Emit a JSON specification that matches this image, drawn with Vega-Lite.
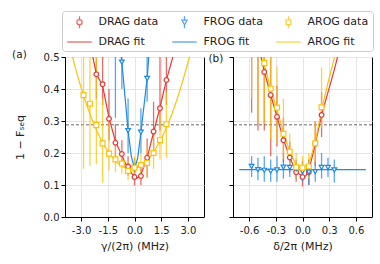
{
  "$schema": "https://vega.github.io/schema/vega-lite/v6.json",
  "padding": {"left": 11, "top": 10, "right": 5, "bottom": 5},
  "datasets": {
    "thr": [{"y": 0.288}],
    "pts_a": [
      {"label": "DRAG data", "x": -2.14, "y": 0.446, "lo": 0.37, "hi": 0.56},
      {"label": "DRAG data", "x": -1.79, "y": 0.415, "lo": 0.35, "hi": 0.55},
      {"label": "DRAG data", "x": -1.43, "y": 0.307, "lo": 0.24, "hi": 0.40},
      {"label": "DRAG data", "x": -1.07, "y": 0.232, "lo": 0.18, "hi": 0.29},
      {"label": "DRAG data", "x": -0.71, "y": 0.197, "lo": 0.16, "hi": 0.24},
      {"label": "DRAG data", "x": -0.36, "y": 0.158, "lo": 0.13, "hi": 0.19},
      {"label": "DRAG data", "x": 0.0, "y": 0.125, "lo": 0.098, "hi": 0.155},
      {"label": "DRAG data", "x": 0.36, "y": 0.128, "lo": 0.10, "hi": 0.16},
      {"label": "DRAG data", "x": 0.71, "y": 0.185, "lo": 0.125, "hi": 0.245},
      {"label": "DRAG data", "x": 1.07, "y": 0.267, "lo": 0.2, "hi": 0.36},
      {"label": "DRAG data", "x": 1.43, "y": 0.34, "lo": 0.27, "hi": 0.55},
      {"label": "DRAG data", "x": 1.79, "y": 0.428, "lo": 0.35, "hi": 0.6},
      {"label": "FROG data", "x": -1.07, "y": 0.62, "lo": 0.31, "hi": 0.9},
      {"label": "FROG data", "x": -0.71, "y": 0.484, "lo": 0.40, "hi": 0.58},
      {"label": "FROG data", "x": -0.36, "y": 0.27, "lo": 0.2, "hi": 0.37},
      {"label": "FROG data", "x": 0.0, "y": 0.15, "lo": 0.12, "hi": 0.185},
      {"label": "FROG data", "x": 0.36, "y": 0.265, "lo": 0.2, "hi": 0.34},
      {"label": "FROG data", "x": 0.71, "y": 0.433, "lo": 0.36, "hi": 0.52},
      {"label": "AROG data", "x": -2.86, "y": 0.381, "lo": 0.15, "hi": 0.6},
      {"label": "AROG data", "x": -2.5, "y": 0.354, "lo": 0.16, "hi": 0.6},
      {"label": "AROG data", "x": -2.14, "y": 0.287, "lo": 0.165, "hi": 0.6},
      {"label": "AROG data", "x": -1.79, "y": 0.23, "lo": 0.107, "hi": 0.37},
      {"label": "AROG data", "x": -1.43, "y": 0.198, "lo": 0.145, "hi": 0.3},
      {"label": "AROG data", "x": -1.07, "y": 0.18, "lo": 0.14, "hi": 0.23},
      {"label": "AROG data", "x": -0.71, "y": 0.167, "lo": 0.135, "hi": 0.2},
      {"label": "AROG data", "x": -0.36, "y": 0.144, "lo": 0.115, "hi": 0.175},
      {"label": "AROG data", "x": 0.0, "y": 0.154, "lo": 0.12, "hi": 0.19},
      {"label": "AROG data", "x": 0.36, "y": 0.1625, "lo": 0.13, "hi": 0.2},
      {"label": "AROG data", "x": 0.71, "y": 0.169, "lo": 0.12, "hi": 0.22},
      {"label": "AROG data", "x": 1.07, "y": 0.2, "lo": 0.15, "hi": 0.26},
      {"label": "AROG data", "x": 1.43, "y": 0.24, "lo": 0.18, "hi": 0.32},
      {"label": "AROG data", "x": 1.79, "y": 0.29, "lo": 0.185, "hi": 0.39}
    ],
    "fit_a": [
      {"label": "DRAG fit", "x": -2.45, "y": 0.53},
      {"label": "DRAG fit", "x": -2.14, "y": 0.447},
      {"label": "DRAG fit", "x": -1.79, "y": 0.41},
      {"label": "DRAG fit", "x": -1.43, "y": 0.31},
      {"label": "DRAG fit", "x": -1.07, "y": 0.236},
      {"label": "DRAG fit", "x": -0.71, "y": 0.192},
      {"label": "DRAG fit", "x": -0.36, "y": 0.15},
      {"label": "DRAG fit", "x": 0.0, "y": 0.126},
      {"label": "DRAG fit", "x": 0.18, "y": 0.122},
      {"label": "DRAG fit", "x": 0.36, "y": 0.132},
      {"label": "DRAG fit", "x": 0.71, "y": 0.185},
      {"label": "DRAG fit", "x": 1.07, "y": 0.264},
      {"label": "DRAG fit", "x": 1.43, "y": 0.343},
      {"label": "DRAG fit", "x": 1.79, "y": 0.428},
      {"label": "DRAG fit", "x": 2.3, "y": 0.53},
      {"label": "FROG fit", "x": -0.86, "y": 0.56},
      {"label": "FROG fit", "x": -0.71, "y": 0.484},
      {"label": "FROG fit", "x": -0.36, "y": 0.27},
      {"label": "FROG fit", "x": -0.18, "y": 0.19},
      {"label": "FROG fit", "x": 0.0, "y": 0.15},
      {"label": "FROG fit", "x": 0.18, "y": 0.185},
      {"label": "FROG fit", "x": 0.36, "y": 0.265},
      {"label": "FROG fit", "x": 0.71, "y": 0.433},
      {"label": "FROG fit", "x": 0.84, "y": 0.53},
      {"label": "AROG fit", "x": -3.6, "y": 0.526},
      {"label": "AROG fit", "x": -3.3, "y": 0.462},
      {"label": "AROG fit", "x": -3.0, "y": 0.405},
      {"label": "AROG fit", "x": -2.7, "y": 0.353},
      {"label": "AROG fit", "x": -2.4, "y": 0.307},
      {"label": "AROG fit", "x": -2.1, "y": 0.267},
      {"label": "AROG fit", "x": -1.8, "y": 0.233},
      {"label": "AROG fit", "x": -1.5, "y": 0.205},
      {"label": "AROG fit", "x": -1.2, "y": 0.183},
      {"label": "AROG fit", "x": -0.9, "y": 0.166},
      {"label": "AROG fit", "x": -0.6, "y": 0.155},
      {"label": "AROG fit", "x": -0.3, "y": 0.15},
      {"label": "AROG fit", "x": 0.0, "y": 0.151},
      {"label": "AROG fit", "x": 0.3, "y": 0.158},
      {"label": "AROG fit", "x": 0.6, "y": 0.171},
      {"label": "AROG fit", "x": 0.9, "y": 0.189},
      {"label": "AROG fit", "x": 1.2, "y": 0.214},
      {"label": "AROG fit", "x": 1.5, "y": 0.244},
      {"label": "AROG fit", "x": 1.8, "y": 0.28},
      {"label": "AROG fit", "x": 2.1, "y": 0.322},
      {"label": "AROG fit", "x": 2.4, "y": 0.37},
      {"label": "AROG fit", "x": 2.7, "y": 0.423},
      {"label": "AROG fit", "x": 3.0, "y": 0.483},
      {"label": "AROG fit", "x": 3.3, "y": 0.548}
    ],
    "pts_b": [
      {"label": "DRAG data", "x": -0.571, "y": 0.58, "lo": 0.326, "hi": 0.83},
      {"label": "DRAG data", "x": -0.5, "y": 0.53, "lo": 0.27, "hi": 0.79},
      {"label": "DRAG data", "x": -0.429, "y": 0.453, "lo": 0.27, "hi": 0.64},
      {"label": "DRAG data", "x": -0.357, "y": 0.381, "lo": 0.19, "hi": 0.57},
      {"label": "DRAG data", "x": -0.286, "y": 0.313, "lo": 0.22, "hi": 0.41},
      {"label": "DRAG data", "x": -0.214, "y": 0.24, "lo": 0.17, "hi": 0.31},
      {"label": "DRAG data", "x": -0.143, "y": 0.186, "lo": 0.14, "hi": 0.235},
      {"label": "DRAG data", "x": -0.071, "y": 0.14, "lo": 0.11, "hi": 0.17},
      {"label": "DRAG data", "x": 0.0, "y": 0.125, "lo": 0.095, "hi": 0.155},
      {"label": "DRAG data", "x": 0.071, "y": 0.14, "lo": 0.1, "hi": 0.18},
      {"label": "DRAG data", "x": 0.143, "y": 0.229, "lo": 0.16, "hi": 0.3},
      {"label": "DRAG data", "x": 0.214, "y": 0.319, "lo": 0.25, "hi": 0.39},
      {"label": "FROG data", "x": -0.571, "y": 0.158, "lo": 0.125, "hi": 0.19},
      {"label": "FROG data", "x": -0.5, "y": 0.148, "lo": 0.115, "hi": 0.185},
      {"label": "FROG data", "x": -0.429, "y": 0.146, "lo": 0.11, "hi": 0.19},
      {"label": "FROG data", "x": -0.357, "y": 0.143, "lo": 0.11, "hi": 0.18},
      {"label": "FROG data", "x": -0.286, "y": 0.147, "lo": 0.11, "hi": 0.19},
      {"label": "FROG data", "x": -0.214, "y": 0.156, "lo": 0.12, "hi": 0.2},
      {"label": "FROG data", "x": -0.143, "y": 0.155, "lo": 0.125, "hi": 0.185},
      {"label": "FROG data", "x": -0.071, "y": 0.15, "lo": 0.12, "hi": 0.18},
      {"label": "FROG data", "x": 0.0, "y": 0.142, "lo": 0.11, "hi": 0.175},
      {"label": "FROG data", "x": 0.071, "y": 0.14, "lo": 0.1, "hi": 0.18},
      {"label": "FROG data", "x": 0.143, "y": 0.142, "lo": 0.11, "hi": 0.175},
      {"label": "FROG data", "x": 0.214, "y": 0.155, "lo": 0.12, "hi": 0.2},
      {"label": "FROG data", "x": 0.286, "y": 0.155, "lo": 0.125, "hi": 0.185},
      {"label": "FROG data", "x": 0.357, "y": 0.147, "lo": 0.108, "hi": 0.18},
      {"label": "AROG data", "x": -0.571, "y": 0.62, "lo": 0.373, "hi": 0.87},
      {"label": "AROG data", "x": -0.5, "y": 0.56, "lo": 0.295, "hi": 0.83},
      {"label": "AROG data", "x": -0.429, "y": 0.481, "lo": 0.29, "hi": 0.67},
      {"label": "AROG data", "x": -0.357, "y": 0.401, "lo": 0.244, "hi": 0.56},
      {"label": "AROG data", "x": -0.286, "y": 0.342, "lo": 0.23, "hi": 0.47},
      {"label": "AROG data", "x": -0.214, "y": 0.26, "lo": 0.18, "hi": 0.37},
      {"label": "AROG data", "x": -0.143, "y": 0.204, "lo": 0.16, "hi": 0.26},
      {"label": "AROG data", "x": -0.071, "y": 0.156, "lo": 0.12, "hi": 0.2},
      {"label": "AROG data", "x": 0.0, "y": 0.154, "lo": 0.12, "hi": 0.19},
      {"label": "AROG data", "x": 0.071, "y": 0.158, "lo": 0.12, "hi": 0.2},
      {"label": "AROG data", "x": 0.143, "y": 0.23, "lo": 0.17, "hi": 0.3},
      {"label": "AROG data", "x": 0.214, "y": 0.343, "lo": 0.28, "hi": 0.467}
    ],
    "fit_b": [
      {"label": "DRAG fit", "x": -0.49, "y": 0.53},
      {"label": "DRAG fit", "x": -0.429, "y": 0.455},
      {"label": "DRAG fit", "x": -0.357, "y": 0.382},
      {"label": "DRAG fit", "x": -0.286, "y": 0.312},
      {"label": "DRAG fit", "x": -0.214, "y": 0.243},
      {"label": "DRAG fit", "x": -0.143, "y": 0.186},
      {"label": "DRAG fit", "x": -0.071, "y": 0.142},
      {"label": "DRAG fit", "x": 0.0, "y": 0.126},
      {"label": "DRAG fit", "x": 0.036, "y": 0.128},
      {"label": "DRAG fit", "x": 0.071, "y": 0.145},
      {"label": "DRAG fit", "x": 0.143, "y": 0.228},
      {"label": "DRAG fit", "x": 0.214, "y": 0.318},
      {"label": "DRAG fit", "x": 0.286, "y": 0.39},
      {"label": "DRAG fit", "x": 0.357, "y": 0.46},
      {"label": "DRAG fit", "x": 0.42, "y": 0.53},
      {"label": "FROG fit", "x": -0.71, "y": 0.148},
      {"label": "FROG fit", "x": 0.71, "y": 0.148},
      {"label": "AROG fit", "x": -0.47, "y": 0.53},
      {"label": "AROG fit", "x": -0.429, "y": 0.478},
      {"label": "AROG fit", "x": -0.357, "y": 0.4},
      {"label": "AROG fit", "x": -0.286, "y": 0.335},
      {"label": "AROG fit", "x": -0.214, "y": 0.265},
      {"label": "AROG fit", "x": -0.143, "y": 0.205},
      {"label": "AROG fit", "x": -0.071, "y": 0.163},
      {"label": "AROG fit", "x": 0.0, "y": 0.15},
      {"label": "AROG fit", "x": 0.071, "y": 0.165},
      {"label": "AROG fit", "x": 0.143, "y": 0.235},
      {"label": "AROG fit", "x": 0.214, "y": 0.335},
      {"label": "AROG fit", "x": 0.286, "y": 0.42},
      {"label": "AROG fit", "x": 0.36, "y": 0.5},
      {"label": "AROG fit", "x": 0.39, "y": 0.535}
    ]
  },
  "spacing": 3,
  "hconcat": [
    {
      "width": 139,
      "height": 160,
      "title": {"text": "(a)", "anchor": "start", "frame": "bounds", "offset": -8, "dx": -2},
      "encoding": {
        "x": {"field": "x", "type": "quantitative", "scale": {"domain": [-3.9, 3.9], "nice": false, "zero": false},
              "axis": {"values": [-3, -1.5, 0, 1.5, 3], "labelExpr": "(datum.value < 0 ? '-' : '') + format(abs(datum.value), '.1f')", "title": "γ/(2π) (MHz)"}},
        "y": {"field": "y", "type": "quantitative", "scale": {"domain": [0, 0.5], "nice": false},
              "axis": {"values": [0, 0.1, 0.2, 0.3, 0.4, 0.5], "format": ".1f", "title": "1 − Fₛₑq", "titlePadding": 18}}
      },
      "layer": [
        {"data": {"name": "thr"}, "mark": {"type": "rule", "strokeDash": [3, 2], "color": "#555555", "strokeWidth": 0.9},
         "encoding": {"x": null, "y": {"field": "y", "type": "quantitative"}}},
        {"data": {"name": "pts_a"}, "mark": {"type": "rule", "clip": true, "strokeWidth": 1.3, "opacity": 0.75},
         "encoding": {"y": {"field": "lo", "type": "quantitative"}, "y2": {"field": "hi"},
           "color": {"field": "label", "type": "nominal", "scale": {"domain": ["DRAG data", "FROG data", "AROG data", "DRAG fit", "FROG fit", "AROG fit"], "range": ["#e53935", "#1e88e5", "#ffc107", "#e53935", "#1e88e5", "#ffc107"]}}}},
        {"data": {"name": "fit_a"}, "mark": {"type": "line", "clip": true, "strokeWidth": 1.2},
         "encoding": {"color": {"field": "label", "type": "nominal"}}},
        {"data": {"name": "pts_a"}, "transform": [{"filter": "datum.x > 100"}],
         "mark": {"type": "point", "filled": false, "clip": true},
         "encoding": {
           "color": {"field": "label", "type": "nominal"},
           "shape": {"field": "label", "type": "nominal",
             "scale": {"domain": ["DRAG data", "FROG data", "AROG data", "DRAG fit", "FROG fit", "AROG fit"],
                       "range": ["M0,-0.98V-0.42M0,0.42V0.98M0.42,0A0.42,0.42,0,1,1,-0.42,0A0.42,0.42,0,1,1,0.42,0Z",
                                 "M0,-0.98V-0.35M0,0.45V0.98M-0.42,-0.35H0.42L0,0.45Z",
                                 "M0,-0.98V-0.39M0,0.39V0.98M-0.39,-0.39H0.39V0.39H-0.39Z",
                                 "M-2,0H2", "M-2,0H2", "M-2,0H2"]},
             "legend": {"orient": "none", "legendX": -3, "legendY": -46, "columns": 3, "title": null, "direction": "horizontal",
               "labelFontSize": 11, "labelOffset": 12, "symbolOffset": 6.5, "columnPadding": 10, "rowPadding": 4, "padding": 4,
               "symbolSize": 150, "symbolFillColor": "white", "symbolStrokeWidth": 1.3, "symbolOpacity": 1,
               "strokeColor": "#cccccc", "fillColor": "white", "cornerRadius": 3}}}},
        {"data": {"name": "pts_a"}, "transform": [{"filter": "datum.label === 'DRAG data'"}],
         "mark": {"type": "point", "shape": "circle", "filled": false, "fill": "white", "fillOpacity": 1, "opacity": 1, "strokeWidth": 1.2, "size": 22, "clip": true},
         "encoding": {"color": {"field": "label", "type": "nominal"}}},
        {"data": {"name": "pts_a"}, "transform": [{"filter": "datum.label === 'FROG data'"}],
         "mark": {"type": "point", "shape": "triangle-down", "filled": false, "fill": "white", "fillOpacity": 1, "opacity": 1, "strokeWidth": 1.2, "size": 22, "clip": true},
         "encoding": {"color": {"field": "label", "type": "nominal"}}},
        {"data": {"name": "pts_a"}, "transform": [{"filter": "datum.label === 'AROG data'"}],
         "mark": {"type": "point", "shape": "square", "filled": false, "fill": "white", "fillOpacity": 1, "opacity": 1, "strokeWidth": 1.2, "size": 24, "clip": true},
         "encoding": {"color": {"field": "label", "type": "nominal"}}}
      ]
    },
    {
      "width": 139,
      "height": 160,
      "title": {"text": "(b)", "anchor": "start", "frame": "bounds", "offset": -8, "dx": -20},
      "encoding": {
        "x": {"field": "x", "type": "quantitative", "scale": {"domain": [-0.78, 0.78], "nice": false, "zero": false},
              "axis": {"values": [-0.6, -0.3, 0, 0.3, 0.6], "labelExpr": "(datum.value < 0 ? '-' : '') + format(abs(datum.value), '.1f')", "title": "δ/2π (MHz)"}},
        "y": {"field": "y", "type": "quantitative", "scale": {"domain": [0, 0.5], "nice": false},
              "axis": {"values": [0, 0.1, 0.2, 0.3, 0.4, 0.5], "labels": false, "title": null}}
      },
      "layer": [
        {"data": {"name": "thr"}, "mark": {"type": "rule", "strokeDash": [3, 2], "color": "#555555", "strokeWidth": 0.9},
         "encoding": {"x": null, "y": {"field": "y", "type": "quantitative"}}},
        {"data": {"name": "pts_b"}, "mark": {"type": "rule", "clip": true, "strokeWidth": 1.3, "opacity": 0.75},
         "encoding": {"y": {"field": "lo", "type": "quantitative"}, "y2": {"field": "hi"},
           "color": {"field": "label", "type": "nominal"}}},
        {"data": {"name": "fit_b"}, "mark": {"type": "line", "clip": true, "strokeWidth": 1.2},
         "encoding": {"color": {"field": "label", "type": "nominal"}}},
        {"data": {"name": "pts_b"}, "transform": [{"filter": "datum.label === 'DRAG data'"}],
         "mark": {"type": "point", "shape": "circle", "filled": false, "fill": "white", "fillOpacity": 1, "opacity": 1, "strokeWidth": 1.2, "size": 22, "clip": true},
         "encoding": {"color": {"field": "label", "type": "nominal"}}},
        {"data": {"name": "pts_b"}, "transform": [{"filter": "datum.label === 'FROG data'"}],
         "mark": {"type": "point", "shape": "triangle-down", "filled": false, "fill": "white", "fillOpacity": 1, "opacity": 1, "strokeWidth": 1.2, "size": 22, "clip": true},
         "encoding": {"color": {"field": "label", "type": "nominal"}}},
        {"data": {"name": "pts_b"}, "transform": [{"filter": "datum.label === 'AROG data'"}],
         "mark": {"type": "point", "shape": "square", "filled": false, "fill": "white", "fillOpacity": 1, "opacity": 1, "strokeWidth": 1.2, "size": 24, "clip": true},
         "encoding": {"color": {"field": "label", "type": "nominal"}}}
      ]
    }
  ],
  "resolve": {"scale": {"color": "shared", "shape": "shared"}},
  "config": {
    "font": "DejaVu Sans",
    "view": {"stroke": "black", "strokeWidth": 1},
    "title": {"fontSize": 10.5, "fontWeight": "normal", "color": "#222222"},
    "axis": {"labelFontSize": 10, "titleFontSize": 11, "titleFontWeight": "normal", "labelColor": "#222222", "titleColor": "#222222",
             "tickColor": "black", "domainColor": "black", "tickSize": 4, "gridColor": "#e5e5e5", "labelPadding": 2, "titlePadding": 3},
    "axisX": {"labelPadding": 4, "titlePadding": 5},
    "legend": {"labelColor": "#222222", "labelFont": "DejaVu Sans"}
  }
}
